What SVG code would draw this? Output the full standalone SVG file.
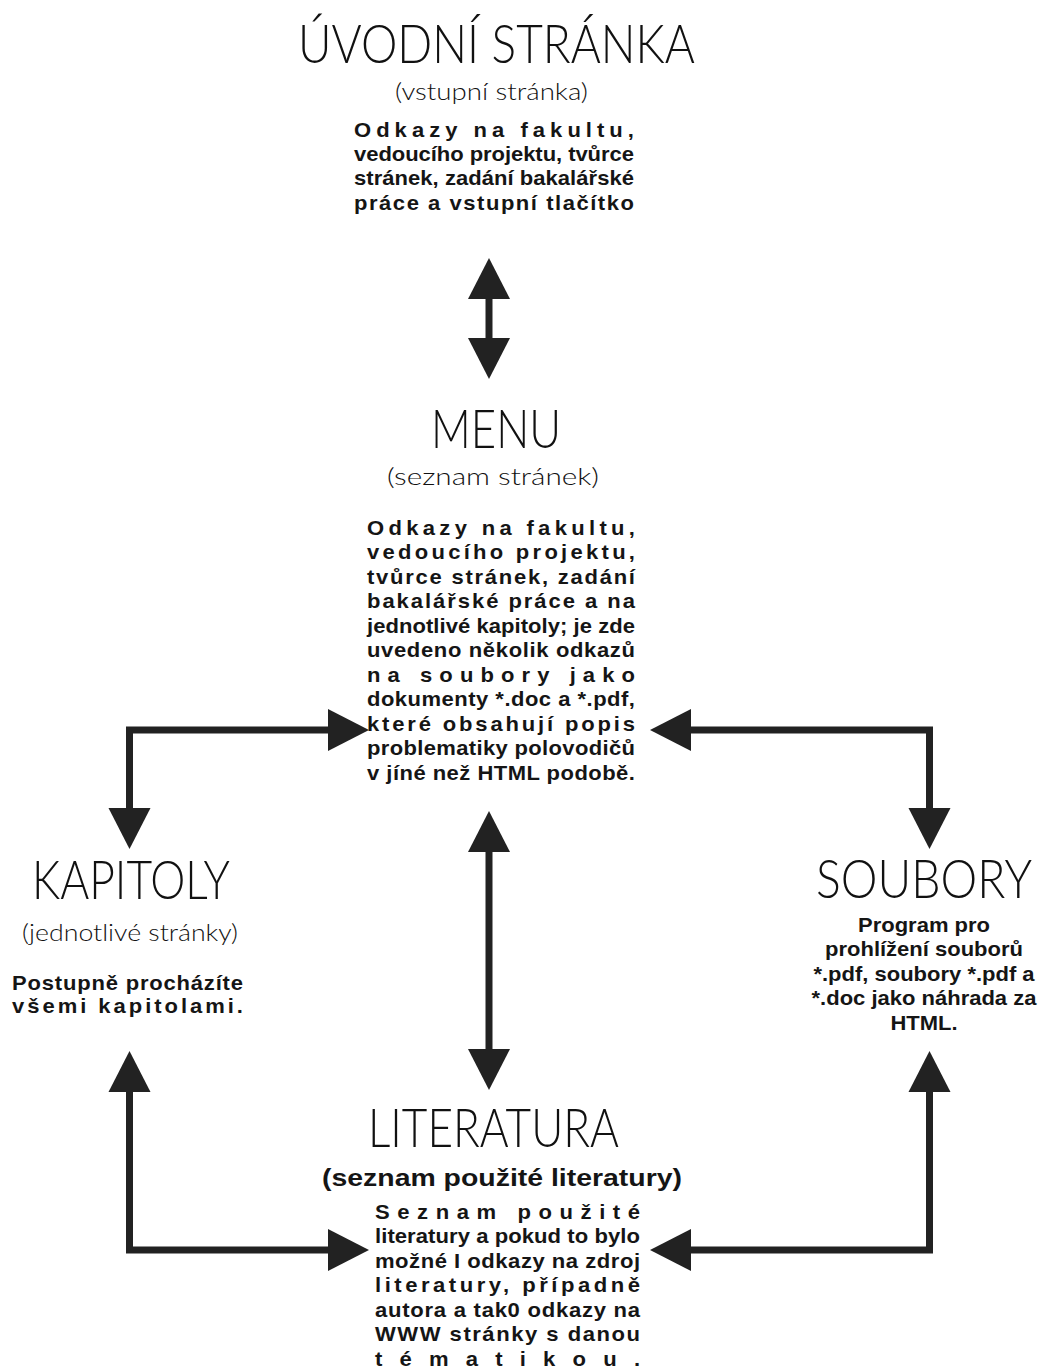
<svg xmlns="http://www.w3.org/2000/svg" width="1042" height="1372" viewBox="0 0 1042 1372">
<style>
.title{font-family:Lato,"DejaVu Sans",sans-serif;font-weight:300;font-size:53px;fill:#111}
.sub{font-family:Lato,"DejaVu Sans",sans-serif;font-weight:300;font-size:23px;fill:#111}
.body{font-family:"Liberation Sans",Arial,sans-serif;font-weight:bold;font-size:20px;fill:#151515}
.lit{font-size:21px}
.subb{font-family:"Liberation Sans",Arial,sans-serif;font-weight:bold;font-size:24px;fill:#151515}
.conn{fill:none;stroke:#222;stroke-width:7;stroke-linejoin:miter;stroke-linecap:butt;marker-start:url(#head);marker-end:url(#head)}
</style>
<defs>
<marker id="head" markerUnits="userSpaceOnUse" markerWidth="41" markerHeight="42" refX="0" refY="21" orient="auto-start-reverse" overflow="visible">
<path d="M0,0 L41,21 L0,42 Z" fill="#222"/>
</marker>
</defs>
<rect width="1042" height="1372" fill="#fff"/>

<g id="uvodni">
<text class="title" x="298" y="63" textLength="397" lengthAdjust="spacingAndGlyphs">ÚVODNÍ STRÁNKA</text>
<text class="sub" x="395" y="100" textLength="193" lengthAdjust="spacingAndGlyphs">(vstupní stránka)</text>
<g transform="translate(354,0) scale(1.1,1)" class="body">
<text x="0" y="137" textLength="254.5" lengthAdjust="spacing">Odkazy na fakultu,</text>
<text x="0" y="161" textLength="254.5" lengthAdjust="spacing">vedoucího projektu, tvůrce</text>
<text x="0" y="185" textLength="254.5" lengthAdjust="spacing">stránek, zadání bakalářské</text>
<text x="0" y="210" textLength="254.5" lengthAdjust="spacing">práce a vstupní tlačítko</text>
</g>
</g>

<g id="menu">
<text class="title" x="431" y="448" textLength="130" lengthAdjust="spacingAndGlyphs">MENU</text>
<text class="sub" x="387" y="485" textLength="212" lengthAdjust="spacingAndGlyphs">(seznam stránek)</text>
<g transform="translate(367,0) scale(1.1,1)" class="body">
<text x="0" y="535" textLength="243.6" lengthAdjust="spacing">Odkazy na fakultu,</text>
<text x="0" y="559.5" textLength="243.6" lengthAdjust="spacing">vedoucího projektu,</text>
<text x="0" y="584" textLength="243.6" lengthAdjust="spacing">tvůrce stránek, zadání</text>
<text x="0" y="608.5" textLength="243.6" lengthAdjust="spacing">bakalářské práce a na</text>
<text x="0" y="633" textLength="243.6" lengthAdjust="spacing">jednotlivé kapitoly; je zde</text>
<text x="0" y="657.5" textLength="243.6" lengthAdjust="spacing">uvedeno několik odkazů</text>
<text x="0" y="682" textLength="243.6" lengthAdjust="spacing">na soubory jako</text>
<text x="0" y="706.5" textLength="243.6" lengthAdjust="spacing">dokumenty *.doc a *.pdf,</text>
<text x="0" y="731" textLength="243.6" lengthAdjust="spacing">které obsahují popis</text>
<text x="0" y="755.5" textLength="243.6" lengthAdjust="spacing">problematiky polovodičů</text>
<text x="0" y="780" textLength="243.6" lengthAdjust="spacing">v jíné než HTML podobě.</text>
</g>
</g>

<g id="kapitoly">
<text class="title" x="32" y="899" textLength="198" lengthAdjust="spacingAndGlyphs">KAPITOLY</text>
<text class="sub" x="22" y="941" textLength="216" lengthAdjust="spacingAndGlyphs">(jednotlivé stránky)</text>
<g transform="translate(12,0) scale(1.1,1)" class="body">
<text x="0" y="990" textLength="210" lengthAdjust="spacing">Postupně procházíte</text>
<text x="0" y="1013" textLength="210" lengthAdjust="spacing">všemi kapitolami.</text>
</g>
</g>

<g id="soubory">
<g transform="translate(1032,898) scale(1,1.1)">
<text class="title" style="font-size:48px" x="0" y="0" text-anchor="end" textLength="216" lengthAdjust="spacingAndGlyphs">SOUBORY</text>
</g>
<g transform="translate(924,0) scale(1.1,1)" class="body" text-anchor="middle">
<text x="0" y="932">Program pro</text>
<text x="0" y="956.5">prohlížení souborů</text>
<text x="0" y="981">*.pdf, soubory *.pdf a</text>
<text x="0" y="1005.5">*.doc jako náhrada za</text>
<text x="0" y="1030">HTML.</text>
</g>
</g>

<g id="literatura">
<text class="title" x="368" y="1147" textLength="251" lengthAdjust="spacingAndGlyphs">LITERATURA</text>
<text class="subb" x="322" y="1186" textLength="360" lengthAdjust="spacingAndGlyphs">(seznam použité literatury)</text>
<g transform="translate(375,0) scale(1.05,1)" class="body lit">
<text x="0" y="1219" textLength="252.4" lengthAdjust="spacing">Seznam použité</text>
<text x="0" y="1243.5" textLength="252.4" lengthAdjust="spacing">literatury a pokud to bylo</text>
<text x="0" y="1268" textLength="252.4" lengthAdjust="spacing">možné I odkazy na zdroj</text>
<text x="0" y="1292.5" textLength="252.4" lengthAdjust="spacing">literatury, případně</text>
<text x="0" y="1317" textLength="252.4" lengthAdjust="spacing">autora a tak0 odkazy na</text>
<text x="0" y="1341.5" textLength="252.4" lengthAdjust="spacing">WWW stránky s danou</text>
<text x="0" y="1366" textLength="252.4" lengthAdjust="spacing">tématikou.</text>
</g>
</g>

<g id="connectors">
<path class="conn" d="M489,299 L489,338"/>
<path class="conn" d="M328,730 L129.5,730 L129.5,808"/>
<path class="conn" d="M691,730 L929.5,730 L929.5,808"/>
<path class="conn" d="M489,852 L489,1049"/>
<path class="conn" d="M129.5,1092 L129.5,1250 L328,1250"/>
<path class="conn" d="M929.5,1092 L929.5,1250 L691,1250"/>
</g>
</svg>
